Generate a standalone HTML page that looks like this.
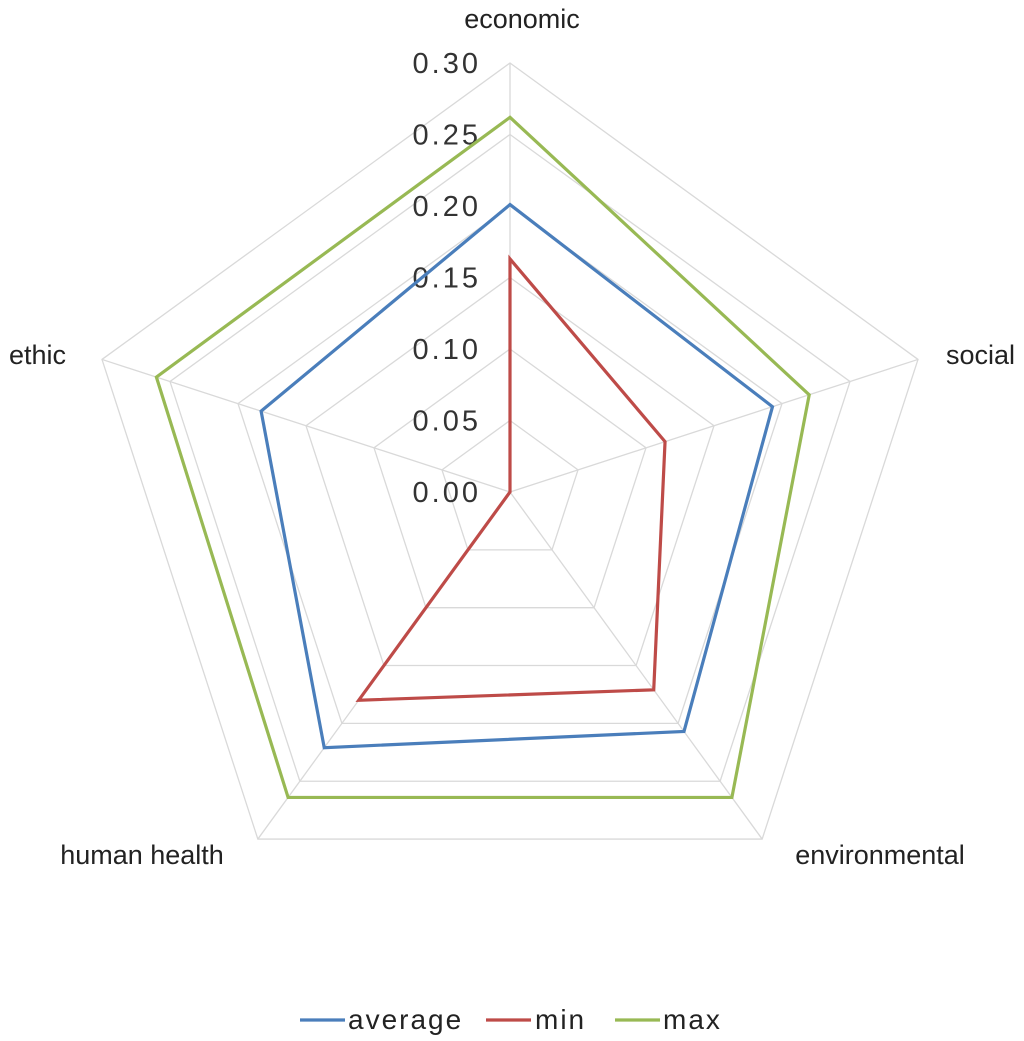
<!DOCTYPE html>
<html><head><meta charset="utf-8"><style>
html,body{margin:0;padding:0;background:#fff;}
svg{display:block;font-family:"Liberation Sans",Calibri,sans-serif;}
</style></head><body>
<svg id="chart" width="1024" height="1041" viewBox="0 0 1024 1041"></svg>
<script>
const categories=["economic","social","environmental","human health","ethic"];
const ticks=[0,0.05,0.10,0.15,0.20,0.25,0.30];
const tickLabels=["0.00","0.05","0.10","0.15","0.20","0.25","0.30"];
const averageValues=[0.201,0.193,0.207,0.221,0.183];
const minValues=[0.163,0.114,0.171,0.18,0.0];
const maxValues=[0.262,0.22,0.264,0.264,0.26];
const seriesNames=["average","min","max"];

const NS="http://www.w3.org/2000/svg";
const svg=document.getElementById('chart');
const cx=510,cy=492,R=429,vmax=0.30;
function ang(i){return -Math.PI/2+i*2*Math.PI/5;}
function pt(i,v){const r=v/vmax*R;return [cx+r*Math.cos(ang(i)),cy+r*Math.sin(ang(i))];}
function mk(tag,attrs){const e=document.createElementNS(NS,tag);for(const k in attrs)e.setAttribute(k,attrs[k]);svg.appendChild(e);return e;}

ticks.forEach((t,k)=>{
  if(t===0)return;
  const p=mk('polygon',{points:categories.map((c,i)=>pt(i,t).join(',')).join(' '),fill:'none',stroke:'#d9d9d9','stroke-width':1.3});
  
  
});
categories.forEach((c,i)=>{
  const [x,y]=pt(i,vmax);
  const l=mk('line',{x1:cx,y1:cy,x2:x,y2:y,stroke:'#d9d9d9','stroke-width':1.3});
  
  
});
tickLabels.forEach((lab,k)=>{
  const y=cy-ticks[k]/vmax*R;
  const t=mk('text',{x:481,y:y+10,'text-anchor':'end','font-size':29,'letter-spacing':3,fill:'#333'});
  t.textContent=lab;
  
  
});
const catPos=[[522,28,'middle'],[1015,364,'end'],[880,864,'middle'],[142,864,'middle'],[9,364,'start']];
categories.forEach((c,i)=>{
  const t=mk('text',{x:catPos[i][0],y:catPos[i][1],'text-anchor':catPos[i][2],'font-size':27,fill:'#222'});
  t.textContent=c;
  
  
});
const colors=["#4a7ebb","#be4b48","#98b954"];
[averageValues,minValues,maxValues].forEach((vals,s)=>{
  const p=mk('polygon',{points:vals.map((v,i)=>pt(i,v).join(',')).join(' '),fill:'none',stroke:colors[s],'stroke-width':3.2,'stroke-linejoin':'miter'});
  
  
});
const legX=[[300,348],[486,535],[615,663]];
seriesNames.forEach((n,s)=>{
  const l=mk('line',{x1:legX[s][0],y1:1020,x2:legX[s][0]+45,y2:1020,stroke:colors[s],'stroke-width':3.2});
  
  
  const t=mk('text',{x:legX[s][1],y:1029,'font-size':28,'letter-spacing':2,fill:'#222'});
  t.textContent=n;
  
  
});
</script>
</body></html>
